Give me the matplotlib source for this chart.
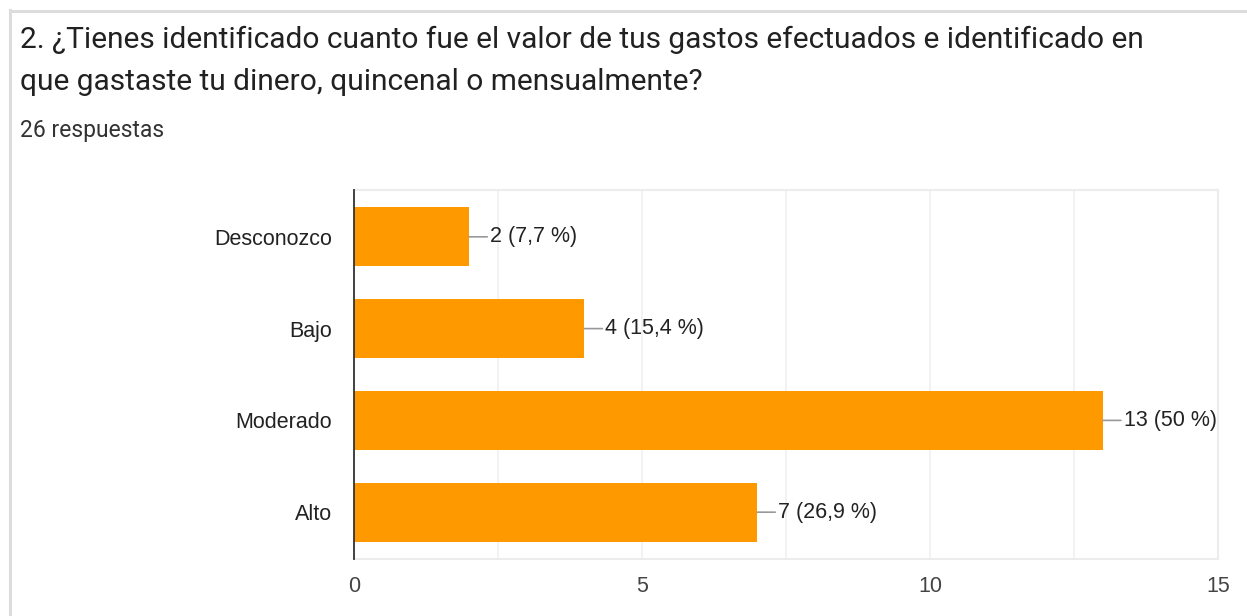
import matplotlib
matplotlib.use('Agg')
from matplotlib import pyplot as plt

plt.rcParams['font.family'] = ['Roboto', 'DejaVu Sans']

categories = ['Desconozco', 'Bajo', 'Moderado', 'Alto']
counts = [2, 4, 13, 7]
labels = ['2 (7,7 %)', '4 (15,4 %)', '13 (50 %)', '7 (26,9 %)']
title_lines = ['2. ¿Tienes identificado cuanto fue el valor de tus gastos efectuados e identificado en',
               'que gastaste tu dinero, quincenal o mensualmente?']
subtitle = '26 respuestas'
xticks = [0, 5, 10, 15]
chart_font = ['Liberation Sans', 'DejaVu Sans']

fig = plt.figure(figsize=(12.47, 6.16), dpi=100)

# card border
fig.add_artist(plt.Line2D([9.5 / 1247, 9.5 / 1247], [0, 1 - 10 / 616], color='#dcdcdc', lw=2.2))
fig.add_artist(plt.Line2D([9.5 / 1247, 1], [1 - 10.5 / 616, 1 - 10.5 / 616], color='#dcdcdc', lw=2.2))

for i, line in enumerate(title_lines):
    fig.text(20 / 1247, 1 - (40 + 42 * i) / 616, line, fontsize=21.5, color='#212121', va='center')
fig.text(20 / 1247, 1 - 131 / 616, subtitle, fontsize=16.5, color='#333333', va='center')

axis = fig.add_axes([354 / 1247, 1 - 559 / 616, (1218 - 354) / 1247, (559 - 190) / 616])
y = list(range(len(categories)))
axis.barh(y, counts, height=0.64, color='#ff9900', zorder=3)
axis.set_ylim(len(categories) - 0.49, -0.51)
axis.set_xlim(0, 15)
axis.set_yticks(y)
axis.set_yticklabels(categories, family=chart_font)
axis.set_xticks(xticks)
axis.set_xticklabels([str(t) for t in xticks], family=chart_font)
axis.set_xticks([2.5, 7.5, 12.5], minor=True)
axis.tick_params(axis='both', length=0, labelsize=15.5, colors='#444444')
axis.tick_params(axis='y', pad=16, labelcolor='#222222')
axis.tick_params(axis='x', pad=12)
axis.tick_params(axis='x', which='minor', length=0)
axis.grid(axis='x', which='both', color='#f0f0f0', lw=1.2, zorder=0)
for side in ['top', 'right', 'bottom']:
    axis.spines[side].set_color('#ececec')
    axis.spines[side].set_linewidth(1.5)
axis.spines['left'].set_color('#333333')
axis.spines['left'].set_linewidth(1.3)
axis.spines['left'].set_zorder(4)

for yi, c, lab in zip(y, counts, labels):
    axis.annotate(lab, xy=(c, yi), xytext=(15, 0), textcoords='offset points',
                  va='center', ha='left', fontsize=15.5, color='#222222', family=chart_font,
                  arrowprops=dict(arrowstyle='-', color='#999999', lw=1.2,
                                  shrinkA=0, shrinkB=0))

plt.savefig('out.png', dpi=100)
